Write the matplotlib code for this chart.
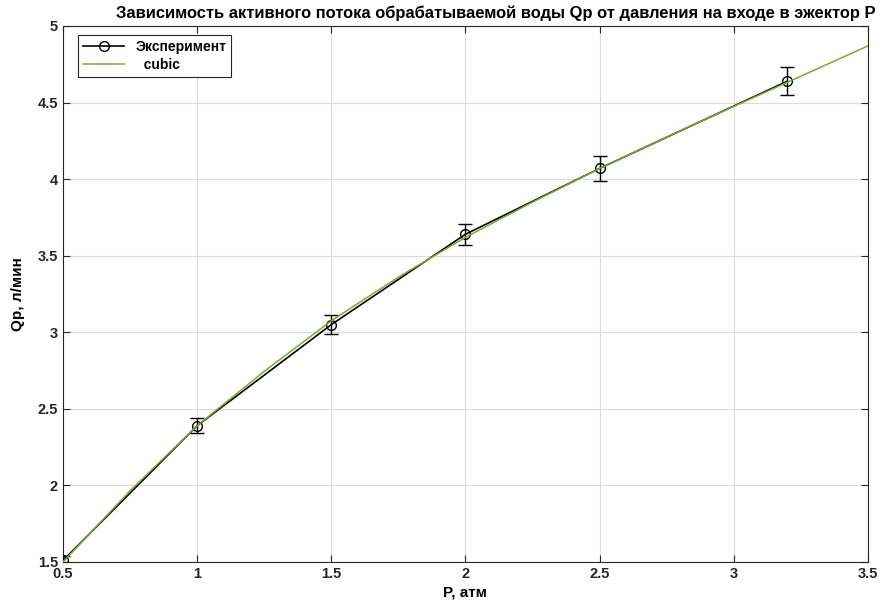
import matplotlib.pyplot as plt
import numpy as np

plt.rcParams['font.family'] = ['Liberation Sans', 'DejaVu Sans']
plt.rcParams['font.weight'] = 'bold'

# experiment
p_exp = [0.5, 1.0, 1.5, 2.0, 2.5, 3.2]
q_exp = [1.51, 2.39, 3.05, 3.64, 4.07, 4.64]
q_err = [0.03, 0.05, 0.06, 0.07, 0.08, 0.09]

# cubic fit curve
p_fit = [0.5, 0.75, 1.0, 1.25, 1.5, 1.75, 2.0, 2.25, 2.5, 2.75, 3.0, 3.25, 3.5]
q_fit = [1.50, 1.965, 2.39, 2.745, 3.075, 3.36, 3.62, 3.85, 4.07, 4.275, 4.475, 4.672, 4.87]

xticks = [0.5, 1, 1.5, 2, 2.5, 3, 3.5]
yticks = [1.5, 2, 2.5, 3, 3.5, 4, 4.5, 5]

fig = plt.figure(figsize=(8.82, 6.14), dpi=100)
ax = fig.add_axes([0.0714, 0.0847, 0.9127, 0.873])

eb = ax.errorbar(p_exp, q_exp, yerr=q_err, fmt='-o', color='black', lw=1.2,
                 mfc='none', mec='black', ms=7, mew=1.0, capsize=5,
                 elinewidth=1.0, zorder=3)
fit_line, = ax.plot(p_fit, q_fit, color='#77ac30', lw=1.1, zorder=4)

ax.set_xlim(0.5, 3.5)
ax.set_ylim(1.5, 5)
ax.set_xticks(xticks)
ax.set_xticklabels(['0.5', '1', '1.5', '2', '2.5', '3', '3.5'])
ax.set_yticks(yticks)
ax.set_yticklabels(['1.5', '2', '2.5', '3', '3.5', '4', '4.5', '5'])
ax.tick_params(direction='in', top=True, right=True, length=5, labelsize=10.5,
               color='#262626', labelcolor='#262626')
ax.grid(True, color='#dcdcdc', lw=0.8)
ax.set_axisbelow(True)
for s in ax.spines.values():
    s.set_color('#262626')
    s.set_linewidth(0.8)

ax.set_xlabel('P, атм', fontsize=11, fontweight='bold', labelpad=3)
ax.set_ylabel('Qp, л/мин', fontsize=11, fontweight='bold', labelpad=9)
ax.set_title('Зависимость активного потока обрабатываемой воды Qp от давления на входе в эжектор P',
             fontsize=11.9, fontweight='bold', pad=6, x=0.537)

# legend uses the data line only, no vertical bar
leg = ax.legend([eb.lines[0], fit_line], ['Эксперимент', '  cubic'],
                loc='upper left', bbox_to_anchor=(0.0186, 0.983),
                borderaxespad=0, fontsize=10, fancybox=False,
                edgecolor='#262626', framealpha=1,
                handlelength=3.0, borderpad=0.35, labelspacing=0.3)
leg.get_frame().set_linewidth(0.8)

plt.savefig('out.png', dpi=100)
